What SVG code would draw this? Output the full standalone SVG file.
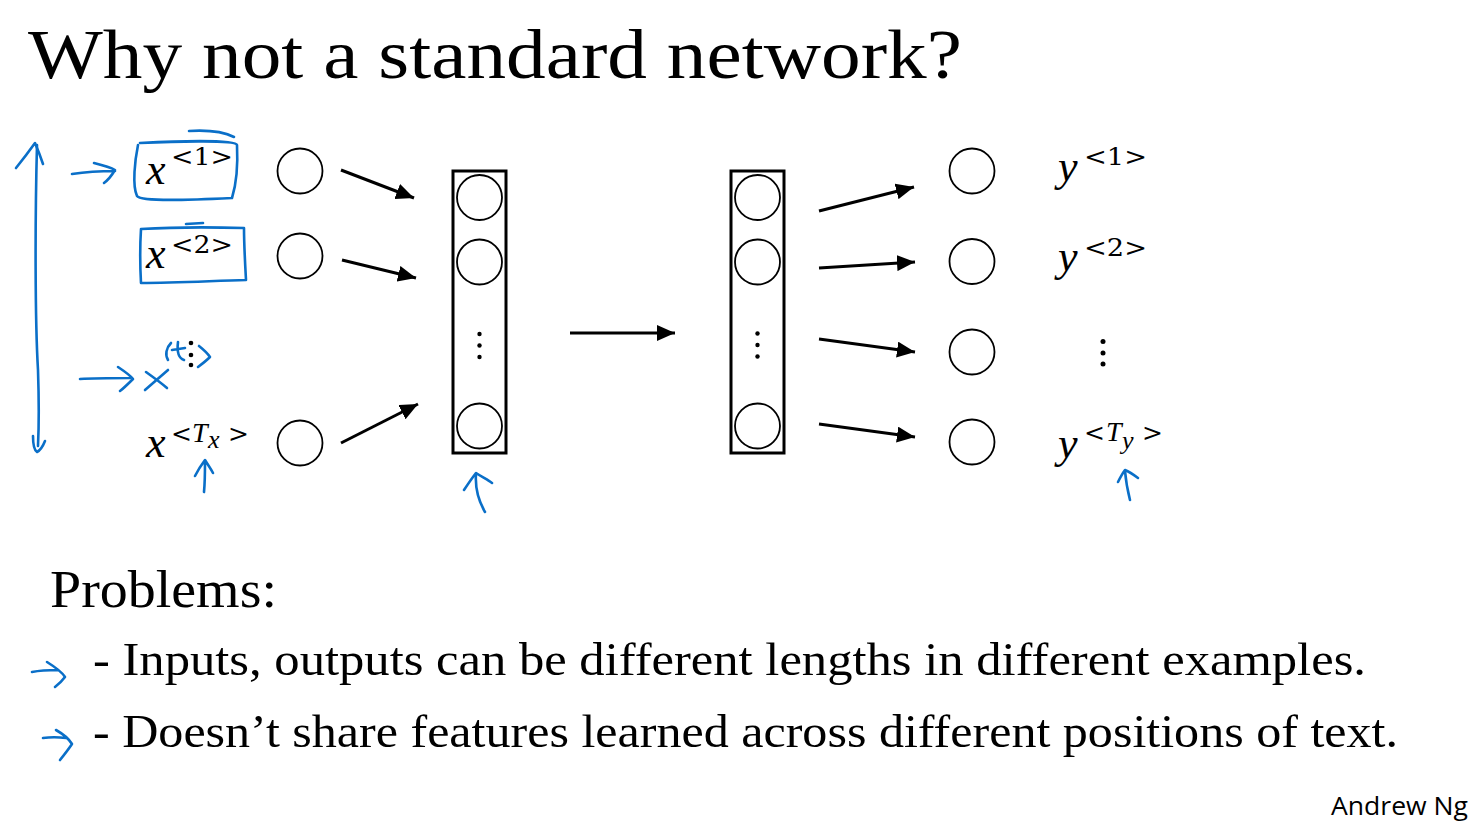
<svg xmlns="http://www.w3.org/2000/svg" width="1482" height="823" viewBox="0 0 1482 823">
<defs>
<marker id="ah" markerUnits="userSpaceOnUse" markerWidth="20" markerHeight="16" refX="18" refY="8" orient="auto">
<path d="M0,0 L18,8 L0,16 z" fill="#000"/>
</marker>
</defs>
<style>
.node{fill:#fff;stroke:#000;stroke-width:1.8}
.box{fill:none;stroke:#000;stroke-width:3}
.conn{stroke:#000;stroke-width:3;fill:none}
.dot{fill:#000}
.ink{fill:none;stroke:#0a6fc8;stroke-width:2.6;stroke-linecap:round;stroke-linejoin:round}
.serif{font-family:"Liberation Serif","DejaVu Serif",serif;fill:#000}
.math{font-family:"Liberation Serif","DejaVu Serif",serif;font-style:italic;fill:#000}
.sup{font-family:"DejaVu Serif","Liberation Serif",serif;fill:#000}
.sans{font-family:"Open Sans","Liberation Sans",sans-serif;fill:#000}
</style>
<rect width="1482" height="823" fill="#fff"/>

<text class="serif" x="28" y="78" font-size="70" textLength="934" lengthAdjust="spacingAndGlyphs">Why not a standard network?</text>

<g id="input-labels">
<g id="x1"><text class="math" x="146" y="184" font-size="44">x</text><text class="sup" x="171" y="165" font-size="25" textLength="62" lengthAdjust="spacingAndGlyphs">&lt;1&gt;</text></g>
<g id="x2"><text class="math" x="146" y="268" font-size="44">x</text><text class="sup" x="171" y="253" font-size="25" textLength="62" lengthAdjust="spacingAndGlyphs">&lt;2&gt;</text></g>
<g id="xdots"><circle class="dot" cx="191" cy="343" r="2.3"/><circle class="dot" cx="191" cy="355" r="2.3"/><circle class="dot" cx="191" cy="365" r="2.3"/></g>
<g id="xTx"><text class="math" x="146" y="457" font-size="44">x</text><text class="sup" x="171" y="442" font-size="25">&lt;</text><text class="math" x="192" y="442" font-size="28">T</text><text class="math" x="208" y="448" font-size="26">x</text><text class="sup" x="228" y="442" font-size="25">&gt;</text></g>
</g>

<g id="inputs">
<circle class="node" cx="300" cy="171" r="22.5"/>
<circle class="node" cx="300" cy="256" r="22.5"/>
<circle class="node" cx="300" cy="443" r="22.5"/>
</g>

<g id="hidden1">
<rect class="box" x="453" y="171" width="53" height="282"/>
<circle class="node" cx="479.5" cy="197.5" r="22.5"/>
<circle class="node" cx="479.5" cy="262" r="22.5"/>
<circle class="dot" cx="479.5" cy="334" r="2.2"/><circle class="dot" cx="479.5" cy="345.5" r="2.2"/><circle class="dot" cx="479.5" cy="357" r="2.2"/>
<circle class="node" cx="479.5" cy="426" r="22.5"/>
</g>

<g id="hidden2">
<rect class="box" x="731" y="171" width="53" height="282"/>
<circle class="node" cx="757.5" cy="197.5" r="22.5"/>
<circle class="node" cx="757.5" cy="262" r="22.5"/>
<circle class="dot" cx="757.5" cy="333.5" r="2.2"/><circle class="dot" cx="757.5" cy="345" r="2.2"/><circle class="dot" cx="757.5" cy="356.5" r="2.2"/>
<circle class="node" cx="757.5" cy="426" r="22.5"/>
</g>

<g id="outputs">
<circle class="node" cx="972" cy="171" r="22.5"/>
<circle class="node" cx="972" cy="261.5" r="22.5"/>
<circle class="node" cx="972" cy="352" r="22.5"/>
<circle class="node" cx="972" cy="442" r="22.5"/>
</g>

<g id="output-labels">
<g id="y1"><text class="math" x="1058" y="181" font-size="44">y</text><text class="sup" x="1084" y="165" font-size="25" textLength="63" lengthAdjust="spacingAndGlyphs">&lt;1&gt;</text></g>
<g id="y2"><text class="math" x="1058" y="271" font-size="44">y</text><text class="sup" x="1084" y="256" font-size="25" textLength="63" lengthAdjust="spacingAndGlyphs">&lt;2&gt;</text></g>
<g id="ydots"><circle class="dot" cx="1103" cy="341.5" r="2.5"/><circle class="dot" cx="1103" cy="353" r="2.5"/><circle class="dot" cx="1103" cy="364" r="2.5"/></g>
<g id="yTy"><text class="math" x="1058" y="458" font-size="44">y</text><text class="sup" x="1084" y="441" font-size="25">&lt;</text><text class="math" x="1106" y="441" font-size="28">T</text><text class="math" x="1122" y="449" font-size="26">y</text><text class="sup" x="1142" y="441" font-size="25">&gt;</text></g>
</g>

<g id="connectors">
<line class="conn" x1="341" y1="170" x2="414" y2="198" marker-end="url(#ah)"/>
<line class="conn" x1="342" y1="260" x2="416" y2="278" marker-end="url(#ah)"/>
<line class="conn" x1="341" y1="443" x2="418" y2="404" marker-end="url(#ah)"/>
<line class="conn" x1="570" y1="333" x2="675" y2="333" marker-end="url(#ah)"/>
<line class="conn" x1="819" y1="211" x2="914" y2="187" marker-end="url(#ah)"/>
<line class="conn" x1="819" y1="268" x2="915" y2="262" marker-end="url(#ah)"/>
<line class="conn" x1="819" y1="339" x2="915" y2="352" marker-end="url(#ah)"/>
<line class="conn" x1="819" y1="424" x2="915" y2="437" marker-end="url(#ah)"/>
</g>

<g id="annotations">
<path class="ink" d="M37 145 C35 220, 35 320, 38 370 C39 400, 39 425, 38 446"/>
<path class="ink" d="M16 168 C24 158, 30 150, 35 143 C38 150, 41 158, 43 164"/>
<path class="ink" d="M33 436 C33 444, 34 450, 37 452 C41 450, 43 446, 45 441"/>
<path class="ink" d="M72 174 C85 172, 100 171, 115 171 M94 163 C102 165, 110 167, 115 170 C112 175, 108 180, 104 183"/>
<path class="ink" d="M138 145 C135 160, 132 185, 137 196 C141 202, 190 200, 232 198 C236 185, 238 165, 237 145 C236 140, 180 141, 140 143"/>
<path class="ink" d="M189 131 C205 130, 222 131, 234 137"/>
<path class="ink" d="M141 229 C140 245, 140 265, 141 283 C175 283, 210 281, 246 280 C245 262, 244 245, 244 228 C210 227, 175 227, 141 229"/>
<path class="ink" d="M186 224 L203 223"/>
<path class="ink" d="M80 379 C95 378, 115 378, 130 378 M118 367 C124 371, 130 375, 133 379 C128 384, 124 388, 120 391"/>
<path class="ink" d="M145 390 C152 384, 160 377, 168 370 M146 372 C153 377, 160 382, 167 388"/>
<path class="ink" d="M171 343 C166 348, 165 355, 168 360"/>
<path class="ink" d="M178 342 C177 350, 178 358, 184 360 M172 350 L185 348"/>
<path class="ink" d="M199 346 C204 350, 208 354, 210 357 C206 361, 202 364, 198 367"/>
<path class="ink" d="M204 492 C205 482, 205 470, 205 461 M195 476 C198 470, 202 464, 205 460 C208 465, 211 469, 213 473"/>
<path class="ink" d="M485 512 C478 500, 475 488, 476 474 M464 490 C468 484, 472 478, 476 473 C482 477, 488 480, 492 483"/>
<path class="ink" d="M1130 500 C1128 492, 1126 483, 1125 471 M1118 482 C1120 478, 1122 474, 1125 470 C1130 472, 1134 475, 1138 478"/>
<path class="ink" d="M32 672 C42 670, 50 670, 58 670 M47 662 C55 667, 62 672, 65 677 C62 681, 59 684, 55 687"/>
<path class="ink" d="M43 738 C50 737, 58 737, 66 738 M56 730 C63 734, 69 739, 72 744 C68 750, 64 755, 60 760"/>
</g>

<text class="serif" x="50" y="607" font-size="52" textLength="227" lengthAdjust="spacingAndGlyphs">Problems:</text>
<text class="serif" x="93" y="675" font-size="46" textLength="1273" lengthAdjust="spacingAndGlyphs">- Inputs, outputs can be different lengths in different examples.</text>
<text class="serif" x="93" y="747" font-size="46" textLength="1305" lengthAdjust="spacingAndGlyphs">- Doesn’t share features learned across different positions of text.</text>
<text class="sans" x="1331" y="815" font-size="25" textLength="137" lengthAdjust="spacingAndGlyphs">Andrew Ng</text>
</svg>
